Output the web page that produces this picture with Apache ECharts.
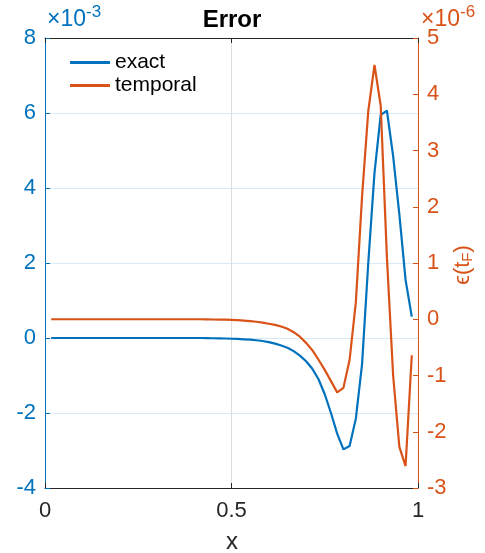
<!DOCTYPE html>
<html>
<head>
<meta charset="utf-8">
<script src="https://cdn.jsdelivr.net/npm/echarts@6/dist/echarts.min.js"></script>
<style>
  html, body { margin: 0; padding: 0; background: #fff; }
  #chart { width: 485px; height: 553px; }
</style>
</head>
<body>
<div id="chart"></div>
<script>
// grid points x_j = j/60, j = 1..59
const xs = Array.from({ length: 59 }, (_, i) => (i + 1) / 60)

// exact error, units of 1e-3 (left axis)
const exactVals = [
  0, 0, 0, 0, 0, 0, 0, 0, 0, 0,
  0, 0, 0, 0, 0, 0, 0, 0, 0, 0,
  0, 0, 0, 0, 0, -0.003, -0.006, -0.01, -0.014, -0.02,
  -0.025, -0.035, -0.045, -0.06, -0.08, -0.11, -0.15, -0.2, -0.26, -0.35,
  -0.47, -0.62, -0.82, -1.1, -1.5, -2.0, -2.55, -2.97, -2.88, -2.15,
  -0.7, 2.0, 4.4, 5.95, 6.06, 4.85, 3.3, 1.55, 0.57
]

// temporal error, units of 1e-6 (right axis)
const temporalVals = [
  0, 0, 0, 0, 0, 0, 0, 0, 0, 0,
  0, 0, 0, 0, 0, 0, 0, 0, 0, 0,
  0, 0, 0, 0, 0, -0.002, -0.004, -0.006, -0.008, -0.012,
  -0.017, -0.024, -0.033, -0.045, -0.06, -0.08, -0.1, -0.13, -0.17, -0.23,
  -0.31, -0.42, -0.55, -0.72, -0.9, -1.1, -1.3, -1.22, -0.72, 0.3,
  2.18, 3.7, 4.52, 3.8, 1.1, -1.0, -2.27, -2.61, -0.64
]

const leftTicks = [-4, 8, 2]   // min, max, step
const rightTicks = [-3, 5, 1]

const BLUE = '#0072BD'
const ORANGE = '#D95319'
const DARK = '#262626'
const FONT = '"Liberation Sans", Arial, sans-serif'

const chart = echarts.init(document.getElementById('chart'))

chart.setOption({
  animation: false,
  backgroundColor: '#fff',
  grid: { left: 45, right: 67, top: 38, bottom: 65 },
  legend: {
    orient: 'vertical',
    left: 65,
    top: 47,
    itemWidth: 40,
    itemHeight: 3,
    itemGap: 2,
    textStyle: { fontFamily: FONT, fontSize: 21, color: '#000' },
    data: [
      { name: 'exact', icon: 'rect' },
      { name: 'temporal', icon: 'rect' }
    ]
  },
  xAxis: [
    {
      type: 'value',
      min: 0, max: 1, interval: 0.5,
      position: 'bottom',
      axisLine: { onZero: false, lineStyle: { color: DARK, width: 1 } },
      axisTick: { inside: true, length: 5, lineStyle: { color: DARK } },
      axisLabel: { fontFamily: FONT, fontSize: 22, color: DARK, margin: 12 },
      splitLine: { show: true, lineStyle: { color: '#dedede', width: 1 } }
    },
    {
      type: 'value',
      min: 0, max: 1, interval: 0.5,
      position: 'top',
      axisLine: { onZero: false, lineStyle: { color: DARK, width: 1 } },
      axisTick: { inside: true, length: 5, lineStyle: { color: DARK } },
      axisLabel: { show: false },
      splitLine: { show: false }
    }
  ],
  yAxis: [
    {
      type: 'value',
      position: 'left',
      min: leftTicks[0], max: leftTicks[1], interval: leftTicks[2],
      axisLine: { show: true, onZero: false, lineStyle: { color: BLUE, width: 1 } },
      axisTick: { show: true, inside: true, length: 5, lineStyle: { color: BLUE } },
      axisLabel: { fontFamily: FONT, fontSize: 22, color: BLUE, margin: 9 },
      splitLine: { show: true, lineStyle: { color: '#d9e9f5', width: 1 } }
    },
    {
      type: 'value',
      position: 'right',
      min: rightTicks[0], max: rightTicks[1], interval: rightTicks[2],
      axisLine: { show: true, onZero: false, lineStyle: { color: ORANGE, width: 1 } },
      axisTick: { show: true, inside: true, length: 5, lineStyle: { color: ORANGE } },
      axisLabel: { fontFamily: FONT, fontSize: 22, color: ORANGE, margin: 9 },
      splitLine: { show: false }
    }
  ],
  series: [
    {
      name: 'exact',
      type: 'line',
      yAxisIndex: 0,
      showSymbol: false,
      symbol: 'none',
      color: BLUE,
      lineStyle: { width: 2.2, color: BLUE },
      data: xs.map((x, i) => [x, exactVals[i]])
    },
    {
      name: 'temporal',
      type: 'line',
      yAxisIndex: 1,
      showSymbol: false,
      symbol: 'none',
      color: ORANGE,
      lineStyle: { width: 2.2, color: ORANGE },
      data: xs.map((x, i) => [x, temporalVals[i]])
    }
  ],
  graphic: [
    {
      type: 'text', x: 232, y: 20,
      style: {
        text: 'Error', fontFamily: FONT, fontSize: 24, fontWeight: 'bold',
        fill: '#000', align: 'center', verticalAlign: 'middle'
      }
    },
    {
      type: 'text', x: 232, y: 542,
      style: {
        text: 'x', fontFamily: FONT, fontSize: 24, fill: DARK,
        align: 'center', verticalAlign: 'middle'
      }
    },
    {
      type: 'text', x: 47, y: 35,
      style: {
        text: '{b|×10}{s|-3}', fill: BLUE, verticalAlign: 'bottom',
        rich: {
          b: { fontFamily: FONT, fontSize: 23, fill: BLUE },
          s: { fontFamily: FONT, fontSize: 17, fill: BLUE, verticalAlign: 'top', padding: [0, 0, 14, 0] }
        }
      }
    },
    {
      type: 'text', x: 421, y: 35,
      style: {
        text: '{b|×10}{s|-6}', fill: ORANGE, verticalAlign: 'bottom',
        rich: {
          b: { fontFamily: FONT, fontSize: 23, fill: ORANGE },
          s: { fontFamily: FONT, fontSize: 17, fill: ORANGE, verticalAlign: 'top', padding: [0, 0, 14, 0] }
        }
      }
    },
    {
      type: 'text', x: 463, y: 265, rotation: Math.PI / 2,
      style: {
        text: '{b|ϵ(t}{s|F}{b|)}', align: 'center', verticalAlign: 'middle',
        rich: {
          b: { fontFamily: FONT, fontSize: 22, fill: ORANGE },
          s: { fontFamily: FONT, fontSize: 15, fill: ORANGE, padding: [10, 0, 0, 0] }
        }
      }
    }
  ]
})
</script>
</body>
</html>
